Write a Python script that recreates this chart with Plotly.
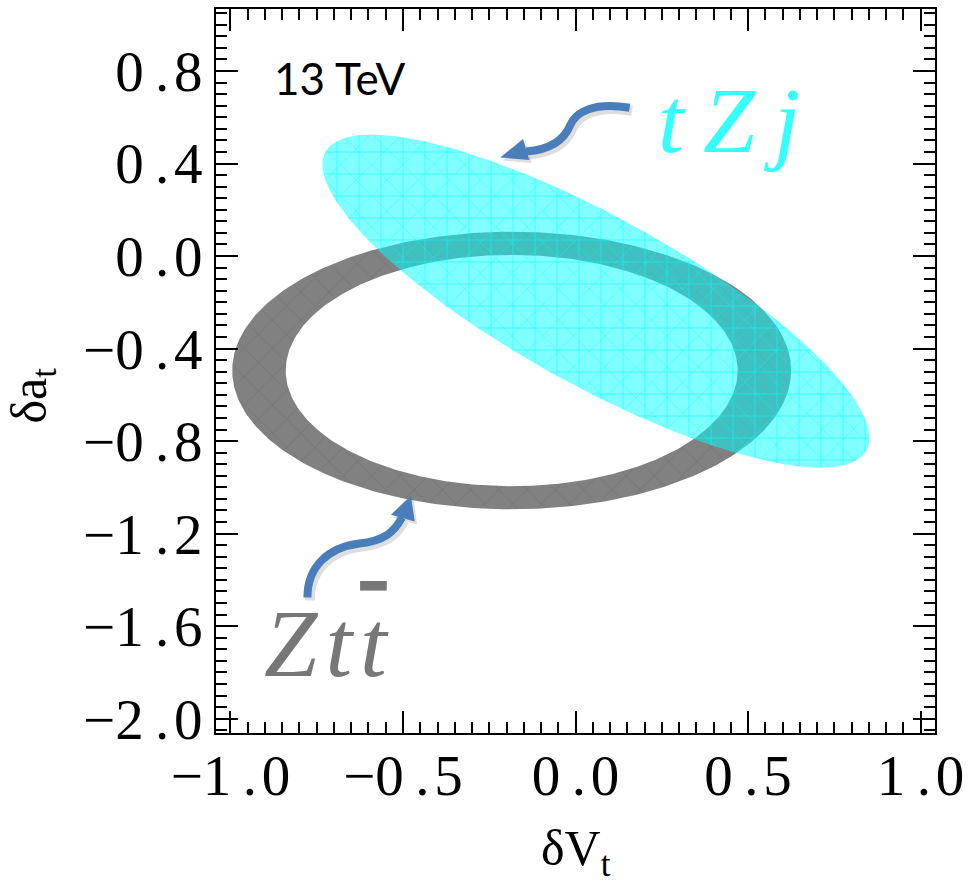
import numpy as np
import plotly.graph_objects as go

# ---------------- data ----------------
# Z t tbar allowed region: elliptical annulus (centre, outer semi-axes, inner semi-axes)
ztt_center = [-0.185, -0.495]
ztt_outer_semi = [0.81, 0.60]
ztt_inner_semi = [0.655, 0.50]

# t Z j allowed region: tilted ellipse (centre + two conjugate semi-diameters)
tzj_center = [0.059, -0.195]
tzj_major = [0.784, -0.645]
tzj_minor = [0.1175, 0.3196]

x_tickvals = [-1.0, -0.5, 0.0, 0.5, 1.0]
x_ticktext = ["\u22121\u2009.\u200a0", "\u22120\u2009.\u200a5", "0\u2009.\u200a0", "0\u2009.\u200a5", "1\u2009.\u200a0"]
y_tickvals = [-2.0, -1.6, -1.2, -0.8, -0.4, 0.0, 0.4, 0.8]
y_ticktext = ["\u22122\u2009.\u200a0", "\u22121\u2009.\u200a6", "\u22121\u2009.\u200a2", "\u22120\u2009.\u200a8",
              "\u22120\u2009.\u200a4", "0\u2009.\u200a0", "0\u2009.\u200a4", "0\u2009.\u200a8"]

# annotation arrows (Bezier control points, data coordinates)
tzj_arrow_x = [0.157, 0.053, 0.001, -0.016, -0.033, -0.074, -0.143]
tzj_arrow_y = [0.641, 0.667, 0.624, 0.564, 0.503, 0.460, 0.452]
tzj_head_x = [-0.218, -0.134, -0.152]
tzj_head_y = [0.426, 0.415, 0.506]

ztt_arrow_x = [-0.777, -0.777, -0.714, -0.627, -0.555, -0.526, -0.503]
ztt_arrow_y = [-1.476, -1.338, -1.260, -1.243, -1.230, -1.195, -1.131]
ztt_head_x = [-0.477, -0.535, -0.466]
ztt_head_y = [-1.036, -1.118, -1.148]

label_tzj_pos = [0.445, 0.59]
label_ztt_pos = [-0.722, -1.676]
label_energy_pos = [-0.684, 0.771]

x_range = [-1.042, 1.042]
y_range = [-2.062, 1.068]

# ---------------- geometry ----------------
t = np.linspace(0, 2 * np.pi, 361)

ox = ztt_center[0] + ztt_outer_semi[0] * np.cos(t)
oy = ztt_center[1] + ztt_outer_semi[1] * np.sin(t)
ix = ztt_center[0] + ztt_inner_semi[0] * np.cos(t[::-1])
iy = ztt_center[1] + ztt_inner_semi[1] * np.sin(t[::-1])
ring_x = np.concatenate([ox, ix])
ring_y = np.concatenate([oy, iy])

cx = tzj_center[0] + tzj_major[0] * np.cos(t) + tzj_minor[0] * np.sin(t)
cy = tzj_center[1] + tzj_major[1] * np.cos(t) + tzj_minor[1] * np.sin(t)

fig = go.Figure()

fig.add_trace(go.Scatter(
    x=ring_x, y=ring_y, mode="lines", fill="toself",
    line=dict(width=0, color="#808080"), fillcolor="#808080",
    fillpattern=dict(shape="x", size=20, solidity=0.06, fgcolor="#707070",
                     bgcolor="#818181", fillmode="replace"),
    hoverinfo="skip", showlegend=False))

fig.add_trace(go.Scatter(
    x=cx, y=cy, mode="lines", fill="toself",
    line=dict(width=0, color="rgba(0,255,255,0.5)"), fillcolor="rgba(0,255,255,0.5)",
    fillpattern=dict(shape="+", size=22, solidity=0.05, fgcolor="#00ffff",
                     bgcolor="rgba(0,255,255,0.5)", fgopacity=0.9, fillmode="replace"),
    hoverinfo="skip", showlegend=False))

fig.add_trace(go.Scatter(
    x=cx, y=cy, mode="lines", fill="toself",
    line=dict(width=0, color="rgba(0,0,0,0)"), fillcolor="rgba(0,0,0,0)",
    fillpattern=dict(shape="x", size=22, solidity=0.05, fgcolor="#00ffff",
                     bgcolor="rgba(0,0,0,0)", fgopacity=0.6, fillmode="replace"),
    hoverinfo="skip", showlegend=False))


def bezier_path(xs, ys, dx=0.0, dy=0.0):
    p = f"M {xs[0]+dx},{ys[0]+dy} C {xs[1]+dx},{ys[1]+dy} {xs[2]+dx},{ys[2]+dy} {xs[3]+dx},{ys[3]+dy}"
    p += f" C {xs[4]+dx},{ys[4]+dy} {xs[5]+dx},{ys[5]+dy} {xs[6]+dx},{ys[6]+dy}"
    return p


def tri_path(xs, ys, dx=0.0, dy=0.0):
    return f"M {xs[0]+dx},{ys[0]+dy} L {xs[1]+dx},{ys[1]+dy} L {xs[2]+dx},{ys[2]+dy} Z"


shapes = []
blue = "#4a7ebb"
sdx, sdy = 0.007, -0.013
for ax_, ay_, hx_, hy_ in [(tzj_arrow_x, tzj_arrow_y, tzj_head_x, tzj_head_y),
                           (ztt_arrow_x, ztt_arrow_y, ztt_head_x, ztt_head_y)]:
    shapes.append(dict(type="path", xref="x", yref="y", path=bezier_path(ax_, ay_, sdx, sdy),
                       line=dict(color="rgba(0,0,0,0.13)", width=10)))
    shapes.append(dict(type="path", xref="x", yref="y", path=tri_path(hx_, hy_, sdx, sdy),
                       line=dict(width=0), fillcolor="rgba(0,0,0,0.13)"))
    shapes.append(dict(type="path", xref="x", yref="y", path=bezier_path(ax_, ay_),
                       line=dict(color=blue, width=8)))
    shapes.append(dict(type="path", xref="x", yref="y", path=tri_path(hx_, hy_),
                       line=dict(width=0), fillcolor=blue))

annotations = [
    dict(x=label_tzj_pos[0], y=label_tzj_pos[1], xref="x", yref="y", showarrow=False,
         text="<i>t\u2009Z\u2009j</i>", font=dict(family="Liberation Serif", size=94, color="#33ffff"),
         xanchor="center", yanchor="middle"),
    dict(x=label_ztt_pos[0], y=label_ztt_pos[1], xref="x", yref="y", showarrow=False,
         text="<i>Z\u200at\u200a<span style='text-decoration:overline'>t</span></i>",
         font=dict(family="Liberation Serif", size=96, color="#777777"),
         xanchor="center", yanchor="middle"),
    dict(x=label_energy_pos[0], y=label_energy_pos[1], xref="x", yref="y", showarrow=False,
         text="13 TeV", font=dict(family="Lato", size=44, color="black"),
         xanchor="center", yanchor="middle"),
    dict(x=-0.255, y=0.4656, xref="paper", yref="paper", showarrow=False, textangle=-90,
         text="\u03b4a<sub>t</sub>", font=dict(family="Liberation Serif", size=50, color="black"),
         xanchor="center", yanchor="middle"),
    dict(x=0.5, y=-0.164, xref="paper", yref="paper", showarrow=False,
         text="\u03b4V<sub>t</sub>", font=dict(family="Liberation Serif", size=50, color="black"),
         xanchor="center", yanchor="middle"),
]

axis_common = dict(
    ticks="inside", ticklen=22, tickwidth=2, tickcolor="black",
    showline=True, linewidth=2, linecolor="black", mirror="allticks",
    showgrid=False, zeroline=False,
    tickfont=dict(family="Liberation Serif", size=57, color="black"),
    minor=dict(dtick=0.05, tick0=0, ticks="inside", ticklen=11, tickwidth=2,
               tickcolor="black", showgrid=False),
)

fig.update_layout(
    width=971, height=886,
    margin=dict(l=216, r=32, t=7, b=153),
    paper_bgcolor="white", plot_bgcolor="white",
    showlegend=False,
    xaxis=dict(range=x_range, tickmode="array", tickvals=x_tickvals, ticktext=x_ticktext,
               ticklabelstandoff=-8, **axis_common),
    yaxis=dict(range=y_range, tickmode="array", tickvals=y_tickvals, ticktext=y_ticktext, **axis_common),
    shapes=shapes,
    annotations=annotations,
)

fig.write_html("out.html")
